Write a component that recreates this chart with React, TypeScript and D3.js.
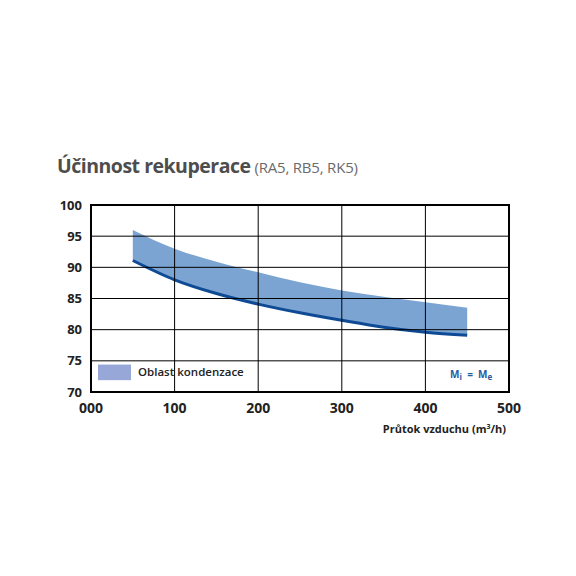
import * as d3 from 'd3';

// Průtok vzduchu (m3/h)
const flowValues = [50, 100, 150, 200, 250, 300, 350, 400, 450];
// horní hranice oblasti kondenzace
const upperValues = [96.0, 93.0, 90.9, 89.2, 87.6, 86.3, 85.3, 84.4, 83.5];
// účinnost pro Mi = Me
const lowerValues = [91.1, 88.0, 85.8, 84.1, 82.7, 81.5, 80.4, 79.6, 79.1];

const xTicks = [0, 100, 200, 300, 400, 500];
const xTickLabels = ['000', '100', '200', '300', '400', '500'];
const yTicks = [70, 75, 80, 85, 90, 95, 100];

const W = 576;
const H = 576;
const margin = { left: 91, right: 67, top: 205, bottom: 184 };

export default function App() {
    const plotW = W - margin.left - margin.right;
    const plotH = H - margin.top - margin.bottom;

    const x = d3.scaleLinear().domain([0, 500]).range([0, plotW]);
    const y = d3.scaleLinear().domain([70, 100]).range([plotH, 0]);

    const pts = flowValues.map((f, i) => ({ f, up: upperValues[i], lo: lowerValues[i] }));

    const band = d3.area<typeof pts[0]>()
        .x(d => x(d.f))
        .y0(d => y(d.lo))
        .y1(d => y(d.up))
        .curve(d3.curveMonotoneX);

    const line = d3.line<typeof pts[0]>()
        .x(d => x(d.f))
        .y(d => y(d.lo))
        .curve(d3.curveMonotoneX);

    const font = "'Open Sans', 'Noto Sans', sans-serif";

    return (
        <svg width={W} height={H} style={{ position: 'absolute', left: 0, top: 0, background: '#fff' }}>
            {/* nadpis */}
            <text x={57} y={173} fontFamily={font} fontSize={19.5} fill="#4d4d4d">
                <tspan fontWeight="700" letterSpacing={-0.5}>Účinnost rekuperace</tspan>
                <tspan fontSize={15} fill="#6b6b6b" dx={4} letterSpacing={-0.2}>(RA5, RB5, RK5)</tspan>
            </text>

            <g transform={`translate(${margin.left},${margin.top})`}>
                {/* oblast kondenzace */}
                <path d={band(pts) || ''} fill="#7ba4d2" />
                <path d={line(pts) || ''} fill="none" stroke="#0f4a94" strokeWidth={3} />

                {/* mřížka */}
                {xTicks.slice(1, -1).map(t => (
                    <line key={'gx' + t} x1={x(t)} x2={x(t)} y1={0} y2={plotH} stroke="#000" strokeWidth={1} />
                ))}
                {yTicks.slice(1, -1).map(t => (
                    <line key={'gy' + t} x1={0} x2={plotW} y1={y(t)} y2={y(t)} stroke="#000" strokeWidth={1} />
                ))}
                <rect x={0} y={0} width={plotW} height={plotH} fill="none" stroke="#000" strokeWidth={2} />

                {/* osy */}
                {yTicks.map(t => (
                    <text key={'ty' + t} x={-9} y={y(t)} dy="0.35em" textAnchor="end"
                        fontFamily={font} fontWeight="700" fontSize={13} fill="#222">{t}</text>
                ))}
                {xTicks.map((t, i) => (
                    <text key={'tx' + t} x={x(t)} y={plotH + 21} textAnchor="middle"
                        fontFamily={font} fontWeight="700" fontSize={14} fill="#222">{xTickLabels[i]}</text>
                ))}
                <text x={plotW - 3} y={plotH + 41} textAnchor="end" fontFamily={font} fontWeight="700"
                    fontSize={11} fill="#222">
                    Průtok vzduchu (m<tspan fontSize={7} dy={-4}>3</tspan><tspan dy={4}>/h)</tspan>
                </text>

                {/* legenda */}
                <rect x={7} y={y(74.4)} width={33} height={y(71.9) - y(74.4)} fill="#97a7d7" />
                <text x={47} y={y(73.15)} dy="0.35em" fontFamily={font} fontWeight="600" fontSize={11.5} fill="#222">
                    Oblast kondenzace
                </text>
                <text x={x(480)} y={y(72.8)} dy="0.35em" textAnchor="end" fontFamily={font} fontWeight="700"
                    fontSize={10} fill="#2a5aa0">
                    M<tspan fontSize={8} dy={2}>i</tspan><tspan dy={-2}>{'\u00a0\u00a0=\u00a0\u00a0M'}</tspan><tspan fontSize={8} dy={2}>e</tspan>
                </text>
            </g>
        </svg>
    );
}
